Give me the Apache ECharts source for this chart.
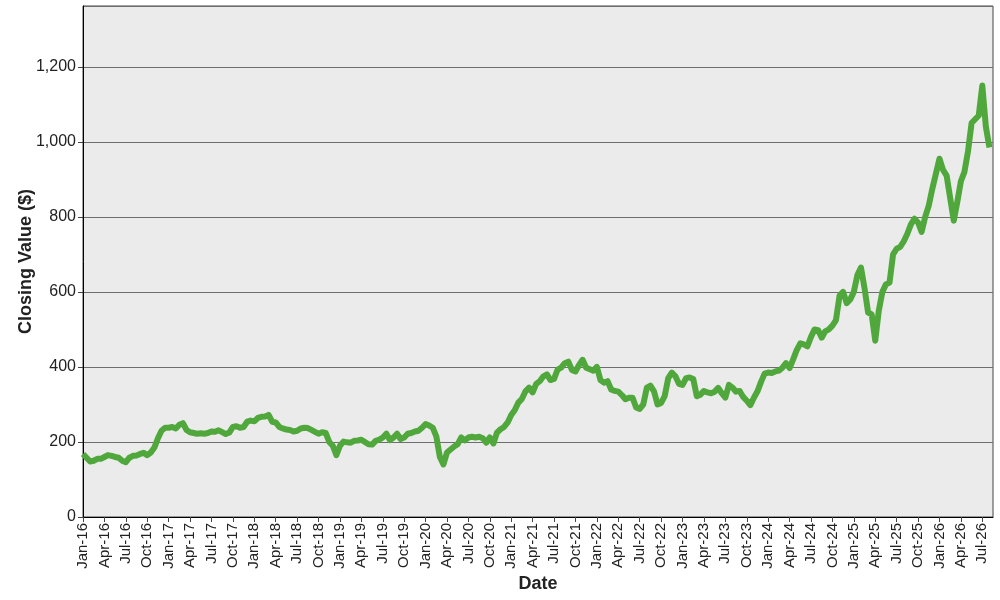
<!DOCTYPE html>
<html>
<head>
<meta charset="utf-8">
<script src="https://cdn.jsdelivr.net/npm/echarts@6/dist/echarts.min.js"></script>
<style>
html,body{margin:0;padding:0;background:#fff;}
#chart{width:1000px;height:600px;}
</style>
</head>
<body>
<div id="chart"></div>
<script>
// Half-month sample dates (1st and 16th of each month), Jan 2016 .. Aug 2026
const startYear = 2016;
const endYear = 2026;
const endMonth = 8; // August, last sample on the 16th
const monthNames = ['Jan','Feb','Mar','Apr','May','Jun','Jul','Aug','Sep','Oct','Nov','Dec'];

// Closing values ($), one per half-month sample
const closingValues = [
  168,158,148,150,155,155,160,165,163,160,158,150,146,158,163,164,168,171,165,172,
  185,210,230,238,238,240,236,246,250,232,226,224,222,223,222,224,228,227,231,226,
  221,225,240,242,238,240,254,257,255,264,267,268,272,254,252,240,236,233,232,228,
  230,236,238,237,232,227,222,226,224,200,190,165,190,201,199,198,203,204,206,200,
  194,193,203,206,212,222,205,212,222,208,212,222,224,228,230,238,248,244,238,215,
  160,140,172,180,188,194,212,204,212,214,212,214,210,198,212,196,225,234,240,252,
  272,285,305,315,335,345,332,355,362,375,380,365,368,393,398,410,414,392,388,405,
  419,398,394,390,400,365,358,362,340,336,334,325,314,318,318,292,288,300,345,350,
  335,300,304,322,370,385,375,355,352,370,372,368,322,326,336,332,330,334,344,330,
  318,352,345,334,336,320,310,298,318,335,360,382,385,384,388,390,398,410,397,420,
  445,463,460,455,480,500,498,478,495,500,510,525,590,600,570,580,600,645,665,610,
  545,540,470,550,600,620,625,700,715,720,735,755,780,795,785,760,800,830,875,915,
  955,925,910,850,790,840,895,920,975,1050,1060,1070,1150,1040,985
];

// y-axis tick labels
const yTicks = [0,200,400,600,800,1000,1200];

const categories = [];
for (let y = startYear; y <= endYear; y++) {
  for (let m = 1; m <= 12; m++) {
    if (y === endYear && m > endMonth) break;
    const mm = String(m).padStart(2,'0');
    categories.push(y + '-' + mm + '-01');
    categories.push(y + '-' + mm + '-16');
  }
}

function fmtDate(s) {
  const p = s.split('-');
  return monthNames[parseInt(p[1],10)-1] + '-' + p[0].slice(2);
}

const chart = echarts.init(document.getElementById('chart'), null, {renderer:'canvas'});
const font = 'Liberation Sans, Arial, sans-serif';
chart.setOption({
  animation: false,
  backgroundColor: '#ffffff',
  grid: {
    left: 83, right: 7, top: 6, bottom: 83,
    show: true, backgroundColor: '#ebebeb', borderColor: '#444', borderWidth: 1,
    containLabel: false
  },
  xAxis: {
    type: 'category',
    data: categories,
    boundaryGap: false,
    name: 'Date',
    nameLocation: 'middle',
    nameGap: 58,
    nameMoveOverlap: false,
    nameTextStyle: {fontFamily: font, fontSize: 18, fontWeight: 'bold', color: '#222'},
    axisLine: {show: true, lineStyle: {color: '#000', width: 1}},
    axisTick: {show: true, interval: 5, length: 5, lineStyle: {color: '#444'}},
    axisLabel: {
      interval: 5, rotate: 90, margin: 6,
      fontFamily: font, fontSize: 15, color: '#222',
      formatter: function (v) { return fmtDate(v); }
    },
    splitLine: {show: false}
  },
  yAxis: {
    type: 'value',
    min: yTicks[0],
    max: 1362,
    interval: 200,
    name: 'Closing Value ($)',
    nameLocation: 'middle',
    nameGap: 48,
    nameMoveOverlap: false,
    nameTextStyle: {fontFamily: font, fontSize: 18, fontWeight: 'bold', color: '#222'},
    axisLine: {show: true, lineStyle: {color: '#000', width: 1}},
    axisTick: {show: true, length: 5, lineStyle: {color: '#444'}},
    axisLabel: {
      margin: 7, fontFamily: font, fontSize: 16, color: '#222',
      showMaxLabel: false,
      formatter: function (v) {
        return yTicks.indexOf(v) >= 0 ? v.toLocaleString('en-US') : '';
      }
    },
    splitLine: {show: true, lineStyle: {color: '#6e6e6e', width: 1}}
  },
  series: [{
    type: 'line',
    data: closingValues,
    symbol: 'none',
    smooth: false,
    lineStyle: {color: '#50a83c', width: 6, join: 'round'},
    itemStyle: {color: '#50a83c'}
  }]
});
</script>
</body>
</html>
